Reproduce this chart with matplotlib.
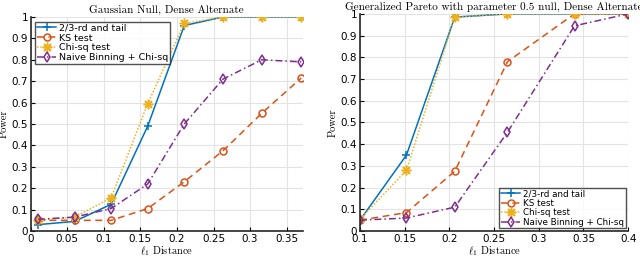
import matplotlib.pyplot as plt

plt.rcParams['mathtext.fontset'] = 'cm'

# Left panel: Gaussian null
dist_gauss = [0.01, 0.06, 0.11, 0.16, 0.21, 0.263, 0.316, 0.37]
tail_gauss = [0.03, 0.045, 0.125, 0.49, 0.96, 1.0, 1.0, 1.0]
ks_gauss = [0.05, 0.05, 0.05, 0.105, 0.23, 0.375, 0.55, 0.715]
chi_gauss = [0.05, 0.065, 0.155, 0.595, 0.97, 1.0, 1.0, 1.0]
naive_gauss = [0.055, 0.065, 0.105, 0.22, 0.50, 0.71, 0.80, 0.79]

# Right panel: Generalized Pareto null
dist_gp = [0.1, 0.152, 0.206, 0.265, 0.34, 0.4]
tail_gp = [0.05, 0.35, 0.985, 1.0, 1.0, 1.0]
ks_gp = [0.05, 0.085, 0.275, 0.78, 1.0, 1.0]
chi_gp = [0.055, 0.28, 0.985, 1.0, 1.0, 1.0]
naive_gp = [0.05, 0.06, 0.11, 0.455, 0.945, 1.0]

labels = ['2/3-rd and tail', 'KS test', 'Chi-sq test', 'Naive Binning + Chi-sq']
colors = ['#0072BD', '#D95319', '#EDB120', '#7E2F8E']
styles = [('-', '+', 6), ((0, (4.5, 3)), 'o', 5), ((0, (1, 1.2)), (8, 2, 0), 7),
          ((0, (4.5, 2, 1, 2)), 'd', 5)]

fig = plt.figure(figsize=(6.4, 2.57), dpi=100)
ax1 = fig.add_axes([0.048, 0.101, 0.425, 0.833])
ax2 = fig.add_axes([0.5625, 0.101, 0.419, 0.845])

def draw(ax, x, series):
    for y, lab, c, (ls, mk, ms) in zip(series, labels, colors, styles):
        ax.plot(x, y, linestyle=ls, marker=mk, color=c, label=lab, lw=1.1,
                markersize=ms, markerfacecolor='none', markeredgewidth=1.1)
    ax.grid(True, color='#e3e3e3', lw=0.8)
    ax.set_axisbelow(True)
    for s in ['top', 'right']:
        ax.spines[s].set_visible(False)
    for s in ['left', 'bottom']:
        ax.spines[s].set_linewidth(1.2)
        ax.spines[s].set_color('#262626')
    ax.tick_params(direction='in', labelsize=7.5, length=3, width=0.8, pad=2)
    ax.set_ylim(0, 1)
    ax.set_yticks([0, 0.1, 0.2, 0.3, 0.4, 0.5, 0.6, 0.7, 0.8, 0.9, 1])
    ax.set_yticklabels(['0', '0.1', '0.2', '0.3', '0.4', '0.5', '0.6', '0.7', '0.8', '0.9', '1'])
    ax.set_xlabel(r'$\ell_1$ Distance', fontsize=7.5, fontfamily='cmr10', labelpad=0)
    ax.set_ylabel('Power', fontsize=7.5, fontfamily='cmr10', labelpad=2)

draw(ax1, dist_gauss, [tail_gauss, ks_gauss, chi_gauss, naive_gauss])
ax1.set_xlim(0, 0.372)
ax1.set_xticks([0, 0.05, 0.1, 0.15, 0.2, 0.25, 0.3, 0.35])
ax1.set_xticklabels(['0', '0.05', '0.1', '0.15', '0.2', '0.25', '0.3', '0.35'])
ax1.set_title('Gaussian Null, Dense Alternate', fontsize=8, fontfamily='cmr10', pad=3)
leg1 = ax1.legend(loc='upper left', fontsize=6.8, frameon=True, fancybox=False,
                  edgecolor='#262626', handlelength=2.0, borderpad=0.2,
                  labelspacing=0.1, handletextpad=0.3, borderaxespad=0.5)
leg1.get_frame().set_linewidth(1.0)

draw(ax2, dist_gp, [tail_gp, ks_gp, chi_gp, naive_gp])
ax2.set_xlim(0.1, 0.4)
ax2.set_xticks([0.1, 0.15, 0.2, 0.25, 0.3, 0.35, 0.4])
ax2.set_xticklabels(['0.1', '0.15', '0.2', '0.25', '0.3', '0.35', '0.4'])
ax2.set_title('Generalized Pareto with parameter 0.5 null, Dense Alternate',
              fontsize=8, fontfamily='cmr10', pad=3)
leg2 = ax2.legend(loc='lower right', fontsize=6.3, frameon=True, fancybox=False,
                  edgecolor='#262626', handlelength=2.2, borderpad=0.2,
                  labelspacing=0.05, handletextpad=0.3, borderaxespad=0.3)
leg2.get_frame().set_linewidth(1.0)

fig.savefig('out.png', dpi=100)
